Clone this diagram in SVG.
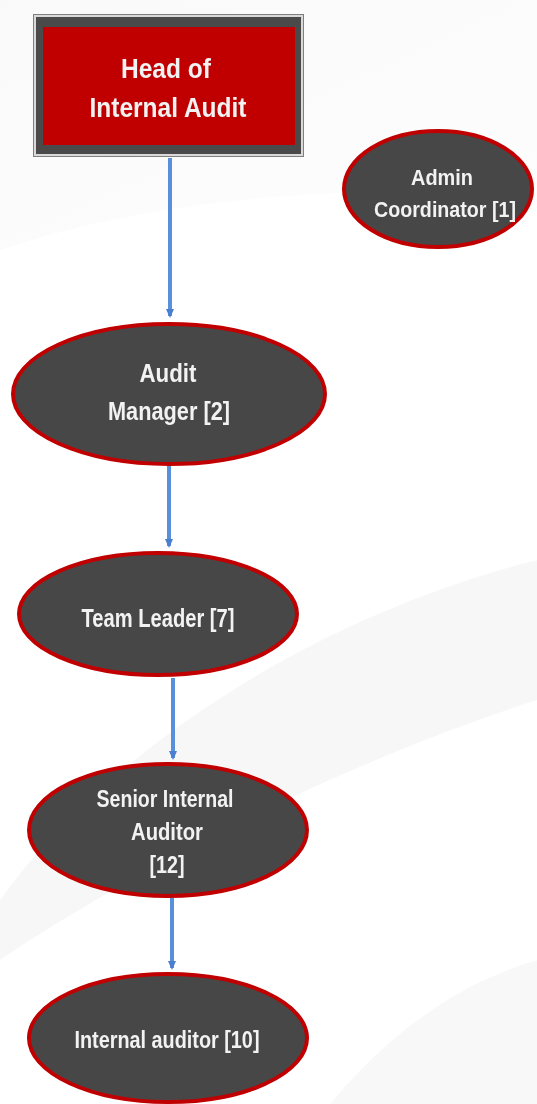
<svg xmlns="http://www.w3.org/2000/svg" width="537" height="1104" viewBox="0 0 537 1104">
<defs>
<marker id="ah" markerWidth="9" markerHeight="8" refX="7" refY="4" orient="auto" markerUnits="userSpaceOnUse">
<path d="M0,0 L9,4 L0,8 z" fill="#4a7fd0"/>
</marker>
<linearGradient id="sw" x1="0" y1="0" x2="1" y2="1">
<stop offset="0" stop-color="#f3f3f3"/>
<stop offset="1" stop-color="#fbfbfb"/>
</linearGradient>
</defs>
<style>
.ell{fill:#474747;stroke:#c00000;stroke-width:4}
.t{font-family:"Liberation Sans",Arial,sans-serif;font-weight:bold;fill:#f2f2f2;text-anchor:middle}
.conn{stroke:#5a8fdb;stroke-width:4;fill:none}
</style>
<rect width="537" height="1104" fill="#ffffff"/>
<g id="background" opacity="0.8">
<path d="M0,250 C150,200 350,180 537,200 L537,0 L0,0 z" fill="url(#sw)" opacity="0.5"/>
<path d="M0,900 C100,760 300,620 537,560 L537,700 C350,760 150,860 0,960 z" fill="#f6f6f6"/>
<path d="M330,1104 C400,1020 470,980 537,960 L537,1104 z" fill="#f7f7f7"/>
</g>
<g id="connectors">
<line class="conn" x1="170" y1="158" x2="170" y2="316" marker-end="url(#ah)"/>
<line class="conn" x1="169" y1="466" x2="169" y2="546" marker-end="url(#ah)"/>
<line class="conn" x1="173" y1="678" x2="173" y2="758" marker-end="url(#ah)"/>
<line class="conn" x1="172" y1="898" x2="172" y2="968" marker-end="url(#ah)"/>
</g>
<g id="head">
<rect x="33.5" y="14.5" width="270" height="142" fill="#d9d9d9" stroke="#7f7f7f" stroke-width="1"/>
<rect x="36" y="17" width="265" height="137" fill="#4a4a4a"/>
<rect x="43" y="27" width="252" height="118" fill="#c00000"/>
<text class="t" x="166" y="78" font-size="28" textLength="90" lengthAdjust="spacingAndGlyphs">Head of</text>
<text class="t" x="168" y="117" font-size="28" textLength="157" lengthAdjust="spacingAndGlyphs">Internal Audit</text>
</g>
<g id="admin">
<ellipse class="ell" cx="438" cy="189" rx="94" ry="58"/>
<text class="t" x="442" y="185" font-size="22" textLength="62" lengthAdjust="spacingAndGlyphs">Admin</text>
<text class="t" x="445" y="217" font-size="22" textLength="142" lengthAdjust="spacingAndGlyphs">Coordinator [1]</text>
</g>
<g id="manager">
<ellipse class="ell" cx="169" cy="394" rx="156" ry="70"/>
<text class="t" x="168" y="382" font-size="25" textLength="57" lengthAdjust="spacingAndGlyphs">Audit</text>
<text class="t" x="169" y="420" font-size="25" textLength="122" lengthAdjust="spacingAndGlyphs">Manager [2]</text>
</g>
<g id="teamleader">
<ellipse class="ell" cx="158" cy="614" rx="139" ry="61"/>
<text class="t" x="158" y="627" font-size="25" textLength="153" lengthAdjust="spacingAndGlyphs">Team Leader [7]</text>
</g>
<g id="senior">
<ellipse class="ell" cx="168" cy="830" rx="139" ry="66"/>
<text class="t" x="165" y="807" font-size="23" textLength="137" lengthAdjust="spacingAndGlyphs">Senior Internal</text>
<text class="t" x="167" y="840" font-size="23" textLength="72" lengthAdjust="spacingAndGlyphs">Auditor</text>
<text class="t" x="167" y="873" font-size="23" textLength="35" lengthAdjust="spacingAndGlyphs">[12]</text>
</g>
<g id="internal">
<ellipse class="ell" cx="168" cy="1038" rx="139" ry="64"/>
<text class="t" x="167" y="1048" font-size="24" textLength="185" lengthAdjust="spacingAndGlyphs">Internal auditor [10]</text>
</g>
</svg>
